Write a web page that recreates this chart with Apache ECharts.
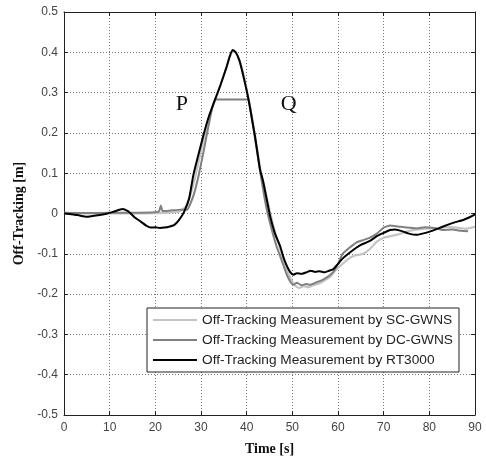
<!DOCTYPE html>
<html><head><meta charset="utf-8">
<script src="https://cdn.jsdelivr.net/npm/echarts@6/dist/echarts.min.js"></script>
<style>html,body{margin:0;padding:0;background:#fff}#c{width:486px;height:461px}</style>
</head><body><div id="c"></div>
<script>
var xTicks = [0,10,20,30,40,50,60,70,80,90];
var yTicks = [-0.5,-0.4,-0.3,-0.2,-0.1,0,0.1,0.2,0.3,0.4,0.5];
var seriesNames = ['Off-Tracking Measurement by SC-GWNS','Off-Tracking Measurement by DC-GWNS','Off-Tracking Measurement by RT3000'];

var scT = [0,5,10,15,20,25,26.5,27.5,28.5,29.5,30.5,31.7,33.1,34.3,35.5,36.3,37,37.7,38.5,39.4,40.5,41.9,43,43.7,45.2,46.3,47.4,48.2,49,49.8,50.5,51.5,52.5,53.5,54.5,55.5,56.5,57.5,58.5,59.5,60.5,62,63.5,65.5,67,68.5,70,72.8,75,77,80.1,82,84,86,88,90];
var scV = [0,0,0.001,0,0.001,0.004,0.015,0.04,0.08,0.13,0.18,0.235,0.283,0.32,0.36,0.39,0.403,0.398,0.378,0.34,0.28,0.19,0.11,0.075,0.0,-0.05,-0.09,-0.12,-0.145,-0.165,-0.178,-0.185,-0.18,-0.183,-0.178,-0.175,-0.17,-0.163,-0.155,-0.14,-0.13,-0.115,-0.105,-0.1,-0.088,-0.07,-0.06,-0.053,-0.045,-0.04,-0.037,-0.036,-0.033,-0.035,-0.038,-0.033];

var dcT = [0,5,10,15,20,20.8,21.2,21.6,23,25,27,27.7,28.5,29.4,30.5,31.7,33.1,36,39.6,40.4,41.2,42.2,43.3,44.4,45.5,46.5,47.3,48.1,48.8,49.5,50.2,51,52,53,53.9,55,56,57,58,59,60,61,62.5,64,65.5,67,68.5,70,71.4,73,75,77.2,79,81,83,85,87,88.5];
var dcV = [0.002,0.001,0.002,0.002,0.003,0.005,0.02,0.006,0.007,0.009,0.01,0.025,0.05,0.09,0.15,0.22,0.283,0.283,0.283,0.283,0.23,0.16,0.08,0.01,-0.04,-0.08,-0.105,-0.13,-0.152,-0.168,-0.177,-0.172,-0.178,-0.175,-0.177,-0.172,-0.168,-0.162,-0.155,-0.145,-0.125,-0.1,-0.085,-0.072,-0.066,-0.06,-0.05,-0.035,-0.03,-0.032,-0.035,-0.037,-0.034,-0.036,-0.041,-0.04,-0.043,-0.044];

var rtT = [0,3,5,7,9.5,11,12.8,14,14.6,15.5,16.8,18,19,20,21,22,23,24.1,25.2,26.3,27.4,28.3,29.3,30.5,31.7,33.1,34.3,35.5,36.3,36.9,37.6,38.4,39.3,40.4,41.8,42.9,43.6,45.1,46.2,47.3,48.1,48.8,49.5,50.2,51,52,53.1,54,55,56,57,58,59,60,61,62.6,64,65,67,68.5,70,71.4,72.5,74.3,75.5,77.2,78.5,80.1,82,83.8,85.5,87.4,89,90];
var rtV = [0,-0.004,-0.008,-0.005,0,0.005,0.011,0.006,0,-0.01,-0.02,-0.03,-0.035,-0.034,-0.036,-0.035,-0.033,-0.029,-0.016,0.004,0.037,0.094,0.14,0.193,0.24,0.283,0.32,0.36,0.39,0.406,0.4,0.38,0.34,0.283,0.193,0.11,0.08,-0.005,-0.05,-0.08,-0.11,-0.13,-0.145,-0.152,-0.148,-0.15,-0.146,-0.142,-0.145,-0.143,-0.146,-0.142,-0.138,-0.125,-0.112,-0.097,-0.085,-0.078,-0.068,-0.056,-0.048,-0.041,-0.04,-0.045,-0.05,-0.053,-0.05,-0.045,-0.037,-0.029,-0.022,-0.016,-0.008,-0.002];

var annotations = [{name:'P', t:25.8, v:0.271},{name:'Q', t:49.2, v:0.271}];

function pairs(t, v){ return t.map(function(x,i){return [x, v[i]];}); }

var chart = echarts.init(document.getElementById('c'), null, {renderer:'canvas'});
var gridLine = {show:true, lineStyle:{color:'#777', width:1, type:[1,2]}};
var lblFont = {color:'#444', fontSize:12, fontFamily:'Liberation Sans, Arial, sans-serif'};
chart.setOption({
  backgroundColor:'#fff',
  animation:false,
  grid:{left:64, right:11, top:12, bottom:43},
  legend:{
    orient:'vertical', left:147, top:308, padding:[5,6,5,6],
    backgroundColor:'#fff', borderColor:'#222', borderWidth:1,
    itemWidth:44, itemHeight:2, itemGap:6, icon:'rect',
    textStyle:{color:'#222', fontSize:13.7, fontFamily:'Liberation Sans, Arial, sans-serif'},
    data:seriesNames
  },
  xAxis:[{
    type:'value', min:0, max:90, interval:10,
    name:'Time [s]', nameLocation:'middle', nameGap:27,
    nameTextStyle:{color:'#111', fontSize:14, fontWeight:'bold', fontFamily:'Liberation Serif, Times New Roman, serif'},
    axisLine:{show:true, onZero:false, lineStyle:{color:'#222', width:1}},
    axisTick:{show:true, inside:true, length:4, lineStyle:{color:'#222'}},
    axisLabel:Object.assign({margin:7}, lblFont),
    splitLine:gridLine
  },{
    type:'value', position:'top', min:0, max:90, interval:10,
    axisLine:{show:true, onZero:false, lineStyle:{color:'#222', width:1}},
    axisTick:{show:true, inside:true, length:4, lineStyle:{color:'#222'}},
    axisLabel:{show:false}, splitLine:{show:false}
  }],
  yAxis:[{
    type:'value', min:-0.5, max:0.5, interval:0.1,
    name:'Off-Tracking [m]', nameLocation:'middle', nameGap:32,
    nameTextStyle:{color:'#111', fontSize:14, fontWeight:'bold', fontFamily:'Liberation Serif, Times New Roman, serif'},
    axisLine:{show:true, onZero:false, lineStyle:{color:'#222', width:1}},
    axisTick:{show:true, inside:true, length:4, lineStyle:{color:'#222'}},
    axisLabel:Object.assign({margin:6, formatter:function(v){ var r=Math.round(v*10)/10; return r===0?'0':String(r);}}, lblFont),
    splitLine:gridLine
  },{
    type:'value', position:'right', min:-0.5, max:0.5, interval:0.1,
    axisLine:{show:true, onZero:false, lineStyle:{color:'#222', width:1}},
    axisTick:{show:true, inside:true, length:4, lineStyle:{color:'#222'}},
    axisLabel:{show:false}, splitLine:{show:false}
  }],
  series:[
    {name:seriesNames[0], type:'line', data:pairs(scT, scV), showSymbol:false, symbol:'none', smooth:0.15, color:'#c4c4c4', lineStyle:{width:2.2, color:'#c4c4c4'}},
    {name:seriesNames[1], type:'line', data:pairs(dcT, dcV), showSymbol:false, symbol:'none', smooth:0.15, color:'#808080', lineStyle:{width:2, color:'#808080'}},
    {name:seriesNames[2], type:'line', data:pairs(rtT, rtV), showSymbol:false, symbol:'none', smooth:0.15, color:'#000', lineStyle:{width:2, color:'#000'},
     markPoint:{symbol:'circle', symbolSize:1, itemStyle:{color:'rgba(0,0,0,0)'},
       label:{show:true, position:'inside', color:'#111', fontSize:22, fontFamily:'Liberation Serif, Times New Roman, serif', formatter:function(p){return p.name;}},
       data:annotations.map(function(a){return {name:a.name, coord:[a.t, a.v]};})}
    }
  ]
});
</script></body></html>
